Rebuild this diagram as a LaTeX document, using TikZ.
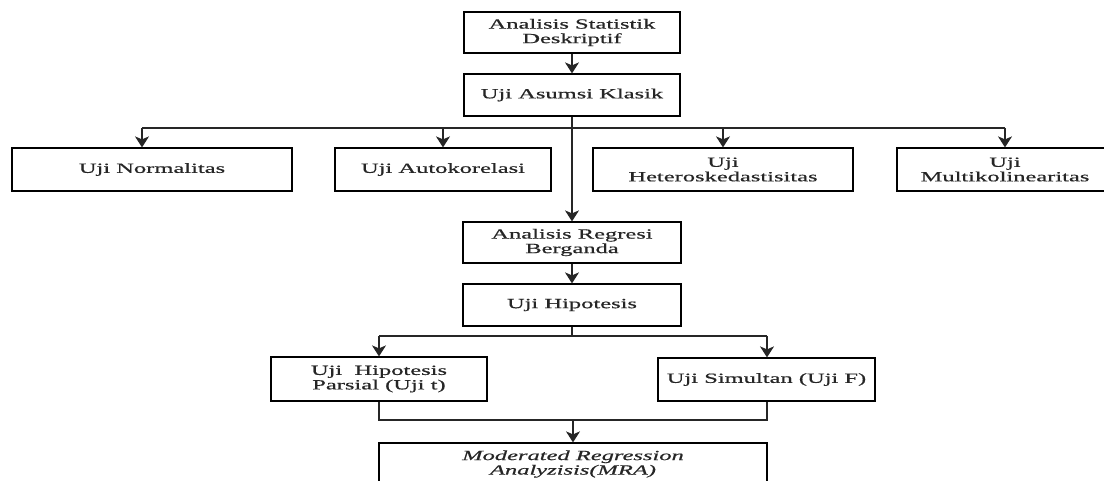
\documentclass[tikz,border=0pt]{standalone}
\usepackage{fontspec}
\setmainfont{Liberation Serif}[FakeStretch=1.75,FakeBold=0.6]
\usetikzlibrary{arrows.meta,calc}
\begin{document}
\begin{tikzpicture}[x=1pt,y=-1pt,
  box/.style={draw=black,line width=1.2pt,rectangle,align=center,inner sep=2pt,
    font=\fontsize{14}{14.5}\selectfont,text=black!85},
  ln/.style={draw=black!85,line width=1.2pt},
  arr/.style={ln,-{Stealth[length=11pt,width=14pt,inset=3pt]}}]
\useasboundingbox (0,0) rectangle (1104,481);
\fill[white] (0,0) rectangle (1104,481);
% boxes
\node[box,minimum width=216pt,minimum height=41pt] (asd) at (572,32.5) {Analisis Statistik\\Deskriptif};
\node[box,minimum width=216pt,minimum height=42pt] (uak) at (572,95) {Uji Asumsi Klasik};
\node[box,minimum width=280pt,minimum height=43pt] (norm) at (152,169.5) {Uji Normalitas};
\node[box,minimum width=216pt,minimum height=43pt] (auto) at (443,169.5) {Uji Autokorelasi};
\node[box,minimum width=260pt,minimum height=43pt] (het) at (723,169.5) {Uji\\Heteroskedastisitas};
\node[box,minimum width=216pt,minimum height=43pt] (multi) at (1005,169.5) {Uji\\Multikolinearitas};
\node[box,minimum width=218pt,minimum height=41pt] (arb) at (572,242.5) {Analisis Regresi\\Berganda};
\node[box,minimum width=218pt,minimum height=42pt] (uh) at (572,305) {Uji Hipotesis};
\node[box,minimum width=216pt,minimum height=44pt] (par) at (379,379) {Uji~ Hipotesis\\Parsial (Uji t)};
\node[box,minimum width=217pt,minimum height=43pt] (sim) at (766.5,379.5) {Uji Simultan (Uji F)};
\node[box,minimum width=388pt,minimum height=42pt] (mra) at (573,464) {\itshape Moderated Regression\\\itshape Analyzisis(MRA)};
% branch coordinates
\coordinate (bl) at (142,128);
\coordinate (br) at (1005,128);
\coordinate (hl) at (379,336);
\coordinate (hr) at (767,336);
\coordinate (jl) at (379,420);
\coordinate (jr) at (767,420);
\coordinate (jm) at (573,420);
% connectors
\draw[arr] (asd) -- (uak);
\draw[arr] (uak.south) -- (arb.north);
\draw[ln] (bl) -- (br);
\draw[arr] (bl) -- (bl |- norm.north);
\draw[arr] (auto.north |- bl) -- (auto.north);
\draw[arr] (het.north |- bl) -- (het.north);
\draw[arr] (br) -- (multi.north);
\draw[arr] (arb) -- (uh);
\draw[ln] (uh.south) -- (uh.south |- hl);
\draw[ln] (hl) -- (hr);
\draw[arr] (hl) -- (par.north);
\draw[arr] (hr) -- (hr |- sim.north);
\draw[ln] (par.south) -- (jl) -- (jr) -- (jr |- sim.south);
\draw[arr] (jm) -- (jm |- mra.north);
\end{tikzpicture}
\end{document}
